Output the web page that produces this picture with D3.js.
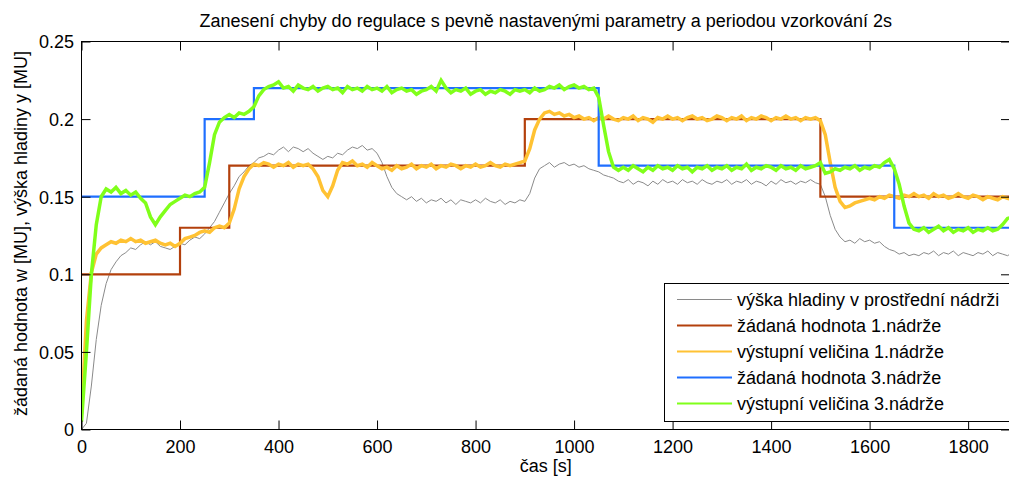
<!DOCTYPE html>
<html>
<head>
<meta charset="utf-8">
<script src="https://cdn.jsdelivr.net/npm/d3@7"></script>
<style>
  html, body { margin: 0; padding: 0; background: #fff; }
  svg { display: block; font-family: "Liberation Sans", Arial, sans-serif; }
</style>
</head>
<body>
<svg id="chart" width="1009" height="479"></svg>
<script>
// Sampling grid of the measured signals [s]
const sampleStep = 10;
const sampleCount = 190;

// Axis ticks
const xTicks = [0, 200, 400, 600, 800, 1000, 1200, 1400, 1600, 1800];
const yTicks = [0, 0.05, 0.1, 0.15, 0.2, 0.25];
const yTickLabels = ["0", "0.05", "0.1", "0.15", "0.2", "0.25"];

// Setpoint of tank 1 (step changes)
const setpoint1Times = [0, 200, 300, 900, 1500, 1890];
const setpoint1Values = [0.10, 0.13, 0.17, 0.20, 0.15, 0.15];

// Setpoint of tank 3 (step changes)
const setpoint3Times = [0, 250, 350, 1050, 1650, 1890];
const setpoint3Values = [0.15, 0.20, 0.22, 0.17, 0.13, 0.13];

// Level in the middle tank
const middleLevel = [
  0.000, 0.004, 0.028, 0.058, 0.080, 0.094, 0.103, 0.108, 0.112, 0.114,
  0.117, 0.116, 0.119, 0.121, 0.119, 0.121, 0.118, 0.117, 0.116, 0.118,
  0.120, 0.119, 0.122, 0.124, 0.123, 0.126, 0.130, 0.134, 0.140, 0.146,
  0.152, 0.157, 0.163, 0.166, 0.170, 0.172, 0.175, 0.176, 0.178, 0.177,
  0.180, 0.182, 0.179, 0.182, 0.181, 0.179, 0.181, 0.178, 0.176, 0.174,
  0.176, 0.175, 0.178, 0.177, 0.180, 0.182, 0.181, 0.183, 0.180, 0.181,
  0.178, 0.172, 0.163, 0.156, 0.152, 0.150, 0.148, 0.150, 0.147, 0.149,
  0.146, 0.148, 0.147, 0.149, 0.146, 0.148, 0.145, 0.148, 0.147, 0.146,
  0.148, 0.146, 0.149, 0.147, 0.146, 0.148, 0.145, 0.147, 0.146, 0.148,
  0.147, 0.152, 0.162, 0.168, 0.170, 0.172, 0.169, 0.171, 0.172, 0.170,
  0.171, 0.169, 0.170, 0.168, 0.167, 0.166, 0.164, 0.163, 0.162, 0.160,
  0.159, 0.161, 0.158, 0.160, 0.159, 0.157, 0.160, 0.158, 0.161, 0.159,
  0.160, 0.158, 0.161, 0.159, 0.160, 0.158, 0.161, 0.159, 0.158, 0.160,
  0.159, 0.161, 0.158, 0.160, 0.159, 0.161, 0.158, 0.160, 0.159, 0.157,
  0.160, 0.158, 0.161, 0.159, 0.160, 0.158, 0.160, 0.159, 0.161, 0.159,
  0.158, 0.150, 0.138, 0.129, 0.124, 0.121, 0.122, 0.120, 0.123, 0.121,
  0.122, 0.120, 0.121, 0.118, 0.116, 0.115, 0.113, 0.114, 0.112, 0.113,
  0.112, 0.114, 0.113, 0.115, 0.112, 0.114, 0.113, 0.115, 0.112, 0.114,
  0.113, 0.112, 0.114, 0.113, 0.115, 0.112, 0.114, 0.113, 0.112, 0.114
];

// Output of tank 1
const output1 = [
  0.010, 0.070, 0.101, 0.113, 0.117, 0.119, 0.121, 0.120, 0.122, 0.121,
  0.123, 0.121, 0.122, 0.120, 0.121, 0.122, 0.120, 0.119, 0.120, 0.118,
  0.120, 0.123, 0.124, 0.125, 0.127, 0.128, 0.127, 0.130, 0.131, 0.130,
  0.133, 0.142, 0.155, 0.163, 0.168, 0.171, 0.170, 0.172, 0.171, 0.169,
  0.171, 0.170, 0.172, 0.169, 0.171, 0.170, 0.171, 0.168, 0.163, 0.154,
  0.150, 0.157, 0.167, 0.172, 0.171, 0.173, 0.170, 0.171, 0.169, 0.172,
  0.170, 0.168, 0.169, 0.167, 0.170, 0.168, 0.169, 0.171, 0.168, 0.170,
  0.169, 0.171, 0.168, 0.170, 0.169, 0.171, 0.170, 0.168, 0.170, 0.169,
  0.171, 0.169, 0.170, 0.172, 0.170, 0.169, 0.171, 0.170, 0.171, 0.172,
  0.173, 0.181, 0.193, 0.200, 0.204, 0.205, 0.203, 0.204, 0.202, 0.203,
  0.201, 0.202, 0.200, 0.201, 0.199, 0.201, 0.200, 0.202, 0.200, 0.199,
  0.201, 0.200, 0.202, 0.199, 0.201, 0.200, 0.198, 0.201, 0.200, 0.202,
  0.200, 0.201, 0.199, 0.201, 0.202, 0.200, 0.201, 0.199, 0.200, 0.202,
  0.201, 0.199, 0.201, 0.200, 0.202, 0.199, 0.201, 0.200, 0.202, 0.201,
  0.199, 0.201, 0.200, 0.202, 0.200, 0.201, 0.199, 0.201, 0.200, 0.201,
  0.199, 0.190, 0.172, 0.156, 0.147, 0.143, 0.144, 0.146, 0.147, 0.148,
  0.149, 0.148, 0.150, 0.149, 0.151, 0.150, 0.149, 0.151, 0.150, 0.152,
  0.150, 0.151, 0.149, 0.152, 0.150, 0.151, 0.149, 0.150, 0.152, 0.150,
  0.149, 0.151, 0.150, 0.148, 0.150, 0.149, 0.148, 0.150, 0.149, 0.148
];

// Output of tank 3
const output3 = [
  0.005, 0.050, 0.100, 0.132, 0.150, 0.155, 0.153, 0.156, 0.152, 0.154,
  0.151, 0.153, 0.149, 0.146, 0.137, 0.132, 0.137, 0.141, 0.145, 0.147,
  0.149, 0.151, 0.150, 0.152, 0.153, 0.156, 0.172, 0.190, 0.198, 0.201,
  0.203, 0.201, 0.204, 0.203, 0.205, 0.208, 0.215, 0.219, 0.221, 0.222,
  0.224, 0.220, 0.221, 0.218, 0.222, 0.220, 0.219, 0.221, 0.218, 0.220,
  0.221, 0.219, 0.220, 0.217, 0.221, 0.219, 0.220, 0.218, 0.221, 0.219,
  0.220, 0.218, 0.221, 0.217, 0.219, 0.220, 0.218, 0.219, 0.216, 0.218,
  0.219, 0.221, 0.218, 0.225, 0.220, 0.217, 0.219, 0.218, 0.220, 0.216,
  0.218, 0.219, 0.216, 0.218, 0.217, 0.219, 0.218, 0.216, 0.219, 0.218,
  0.219, 0.217, 0.220, 0.218, 0.219, 0.221, 0.220, 0.222, 0.219, 0.221,
  0.222, 0.220, 0.221, 0.219, 0.220, 0.214, 0.196, 0.179, 0.169, 0.167,
  0.169, 0.167, 0.170, 0.168, 0.166, 0.169, 0.167, 0.170, 0.168, 0.169,
  0.167, 0.170, 0.168, 0.169, 0.166, 0.169, 0.168, 0.170, 0.167, 0.169,
  0.168, 0.170, 0.167, 0.169, 0.168, 0.171, 0.167, 0.169, 0.168, 0.170,
  0.169, 0.167, 0.170, 0.168, 0.169, 0.167, 0.170, 0.168, 0.169, 0.170,
  0.172, 0.165, 0.166, 0.168, 0.167, 0.169, 0.168, 0.170, 0.167, 0.169,
  0.168, 0.170, 0.169, 0.172, 0.174, 0.168, 0.158, 0.144, 0.133, 0.129,
  0.128, 0.130, 0.127, 0.129, 0.131, 0.128, 0.130, 0.127, 0.129, 0.128,
  0.130, 0.127, 0.129, 0.128, 0.130, 0.128, 0.129, 0.132, 0.136, 0.137
];

// Legend entries in plotting order
const seriesNames = [
  "výška hladiny v prostřední nádrži",
  "žádaná hodnota 1.nádrže",
  "výstupní veličina 1.nádrže",
  "žádaná hodnota 3.nádrže",
  "výstupní veličina 3.nádrže"
];
const seriesColors = ["#8a8a8a", "#b3400c", "#ffc233", "#1f6fff", "#80ff1a"];

const titleText = "Zanesení chyby do regulace s pevně nastavenými parametry a periodou vzorkování 2s";
const xLabel = "čas [s]";
const yLabel = "žádaná hodnota w [MU], výška hladiny y [MU]";

// ---------------------------------------------------------------------------
const svg = d3.select("#chart");
const plotLeft = 81.5, plotRight = 1010, plotTop = 41.5, plotBottom = 429.5;
const fontSize = 18;

const x = d3.scaleLinear().domain([0, 1885]).range([plotLeft, plotRight]);
const y = d3.scaleLinear().domain([0, 0.25]).range([plotBottom, plotTop]);

const times = d3.range(sampleCount).map(i => i * sampleStep);

svg.append("defs").append("clipPath").attr("id", "plot-clip")
  .append("rect")
  .attr("x", plotLeft).attr("y", plotTop)
  .attr("width", plotRight - plotLeft).attr("height", plotBottom - plotTop);

const plot = svg.append("g").attr("clip-path", "url(#plot-clip)");

const sampled = vals => vals.map((v, i) => [times[i], v]);
const stepped = (ts, vs) => ts.map((t, i) => [t, vs[i]]);

const line = d3.line().x(d => x(d[0])).y(d => y(d[1]));
const stepLine = d3.line().x(d => x(d[0])).y(d => y(d[1])).curve(d3.curveStepAfter);

const series = [
  { path: line(sampled(middleLevel)), width: 1 },
  { path: stepLine(stepped(setpoint1Times, setpoint1Values)), width: 2.2 },
  { path: line(sampled(output1)), width: 3.5 },
  { path: stepLine(stepped(setpoint3Times, setpoint3Values)), width: 2.2 },
  { path: line(sampled(output3)), width: 3.5 }
];

series.forEach((s, i) => {
  plot.append("path")
    .attr("d", s.path)
    .attr("fill", "none")
    .attr("stroke", seriesColors[i])
    .attr("stroke-width", s.width)
    .attr("stroke-linejoin", "miter");
});

// Axes with inward ticks on all four sides
const styleAxis = g => {
  g.attr("font-family", "Liberation Sans, Arial, sans-serif")
   .attr("font-size", fontSize);
  g.select(".domain").remove();
  g.selectAll(".tick line").attr("stroke", "#000");
  g.selectAll(".tick text").attr("fill", "#000");
};

svg.append("g")
  .attr("transform", `translate(0,${plotBottom})`)
  .call(d3.axisBottom(x).tickValues(xTicks).tickSize(-9).tickPadding(10.5).tickFormat(d3.format("d")))
  .call(styleAxis);

svg.append("g")
  .attr("transform", `translate(0,${plotTop})`)
  .call(d3.axisTop(x).tickValues(xTicks).tickSize(-9).tickFormat(""))
  .call(styleAxis);

svg.append("g")
  .attr("transform", `translate(${plotLeft},0)`)
  .call(d3.axisLeft(y).tickValues(yTicks).tickSize(-9).tickPadding(7.5)
    .tickFormat((d, i) => yTickLabels[i]))
  .call(styleAxis)
  .selectAll(".tick text").attr("dy", "0.36em");

svg.append("g")
  .attr("transform", `translate(${plotRight},0)`)
  .call(d3.axisRight(y).tickValues(yTicks).tickSize(-9).tickFormat(""))
  .call(styleAxis);

// Axes box
svg.append("rect")
  .attr("x", plotLeft).attr("y", plotTop)
  .attr("width", plotRight - plotLeft).attr("height", plotBottom - plotTop)
  .attr("fill", "none").attr("stroke", "#000").attr("stroke-width", 1);

// Title and axis labels
svg.append("text")
  .attr("x", (plotLeft + plotRight) / 2).attr("y", 27)
  .attr("text-anchor", "middle").attr("font-size", fontSize)
  .attr("fill", "#000").text(titleText);

svg.append("text")
  .attr("x", (plotLeft + plotRight) / 2).attr("y", 472)
  .attr("text-anchor", "middle").attr("font-size", fontSize)
  .attr("fill", "#000").text(xLabel);

svg.append("text")
  .attr("transform", `translate(27,${(plotTop + plotBottom) / 2 - 2}) rotate(-90)`)
  .attr("text-anchor", "middle").attr("font-size", fontSize)
  .attr("fill", "#000").text(yLabel);

// Legend
const legend = svg.append("g");
const legX = 664.5, legY = 283.5, legW = 350, legH = 138;
legend.append("rect")
  .attr("x", legX).attr("y", legY).attr("width", legW).attr("height", legH)
  .attr("fill", "#fff").attr("stroke", "#000").attr("stroke-width", 1);

seriesNames.forEach((name, i) => {
  const cy = 299.5 + i * 26;
  legend.append("line")
    .attr("x1", 677).attr("x2", 732).attr("y1", cy).attr("y2", cy)
    .attr("stroke", seriesColors[i])
    .attr("stroke-width", i === 0 ? 1 : 2.2);
  legend.append("text")
    .attr("x", 737).attr("y", cy + 6.5)
    .attr("font-size", fontSize).attr("fill", "#000")
    .text(name);
});
</script>
</body>
</html>
